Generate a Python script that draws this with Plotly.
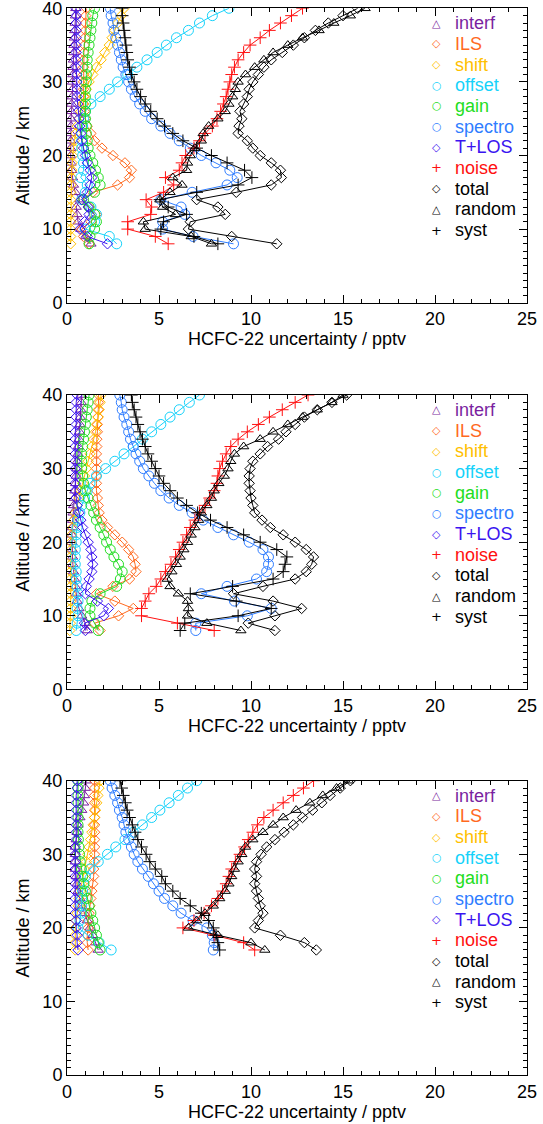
import plotly.graph_objects as go

# ---------------- data ----------------
ALT_A = [8, 9, 10, 11, 12, 13, 14, 15, 16, 17, 18, 19, 20, 21, 22, 23, 24,
         25, 26, 27, 28, 29, 30, 31, 32, 33, 34, 35, 36, 37, 38, 39, 40]
ALT_C = [17, 18, 19, 20, 21, 22, 23, 24, 25, 26, 27, 28, 29, 30, 31, 32, 33,
         34, 35, 36, 37, 38, 39, 40]

# panel 1
INTERF_1 = [1.3, 1.0, 0.75, 0.6, 0.55, 0.5, 0.7, 0.45, 0.35, 0.3, 0.25, 0.22, 0.2, 0.2, 0.2, 0.2, 0.22,
            0.22, 0.25, 0.25, 0.28, 0.3, 0.3, 0.32, 0.33, 0.35, 0.37, 0.38, 0.4, 0.42, 0.44, 0.46, 0.48]
ILS_1 = [1.2, 0.9, 0.8, 1.3, 1.6, 1.2, 0.8, 1.4, 2.75, 3.4, 3.5, 3.15, 2.5, 1.9, 1.5, 1.3, 1.1,
         1.0, 0.95, 0.9, 0.9, 0.9, 0.9, 0.9, 0.9, 0.9, 0.92, 0.95, 0.97, 1.0, 1.0, 1.02, 1.05]
SHIFT_1 = [0.2, 0.2, 0.2, 0.2, 0.2, 0.2, 0.2, 0.2, 0.22, 0.24, 0.26, 0.28, 0.3, 0.35, 0.4, 0.48, 0.56,
           0.65, 0.75, 0.85, 0.95, 1.05, 1.2, 1.4, 1.6, 1.85, 2.05, 2.3, 2.45, 2.6, 2.75, 2.95, 3.1]
OFFSET_1 = [2.7, 2.3, 1.0, 1.5, 1.6, 1.3, 0.8, 1.0, 1.1, 0.75, 0.9, 0.9, 0.85, 0.8, 0.8, 0.8, 0.85,
            0.9, 1.0, 1.3, 1.8, 2.3, 2.75, 3.3, 3.8, 4.35, 4.9, 5.4, 5.95, 6.6, 7.2, 7.9, 8.8]
GAIN_1 = [1.2, 1.25, 1.5, 1.6, 1.5, 1.2, 0.9, 1.5, 1.8, 1.7, 1.55, 1.4, 1.25, 1.15, 1.1, 1.05, 1.05,
          1.0, 1.0, 1.0, 1.0, 1.0, 1.05, 1.05, 1.1, 1.1, 1.15, 1.2, 1.25, 1.3, 1.35, 1.4, 1.5]
SPECTRO_1 = [9.05, 6.85, 5.2, 5.2, 6.4, 6.2, 5.1, 6.8, 8.7, 9.25, 8.85, 8.1, 7.3, 6.7, 6.1, 5.6, 5.1,
             4.6, 4.25, 3.95, 3.7, 3.5, 3.35, 3.2, 3.05, 2.95, 2.85, 2.75, 2.65, 2.55, 2.5, 2.4, 2.35]
TLOS_1 = [2.2, 1.1, 0.7, 0.95, 1.2, 1.15, 0.8, 1.1, 1.25, 1.35, 1.25, 1.1, 1.0, 0.9, 0.8, 0.75, 0.7,
          0.65, 0.6, 0.58, 0.55, 0.55, 0.53, 0.52, 0.5, 0.5, 0.5, 0.5, 0.5, 0.5, 0.5, 0.5, 0.5]
NOISE_1 = [5.5, 4.8, 3.3, 3.3, 4.55, 4.6, 4.3, 5.25, 5.8, 5.35, 6.1, 6.25, 6.45, 6.9, 7.2, 7.5, 7.9,
           8.15, 8.35, 8.5, 8.65, 8.75, 8.85, 8.95, 9.1, 9.3, 9.6, 9.95, 10.5, 11.0, 11.6, 12.2, 12.8]
TOTAL_1 = [11.4, 8.95, 6.6, 6.7, 8.6, 8.2, 7.05, 9.2, 11.1, 11.65, 11.6, 11.1, 10.5, 10.1, 9.8, 9.3, 9.35,
           9.5, 9.4, 9.6, 9.8, 9.9, 10.1, 10.4, 10.7, 11.1, 11.7, 12.3, 12.9, 13.5, 14.2, 15.0, 15.8]
RANDOM_1 = [7.85, 6.75, 4.25, 4.15, 5.9, 5.2, 5.05, 5.6, 6.25, 5.75, 6.5, 6.55, 6.7, 6.95, 7.3, 7.4, 7.7,
            8.2, 8.6, 8.8, 9.0, 9.15, 9.3, 9.7, 10.2, 10.7, 11.2, 12.0, 12.8, 13.7, 14.5, 15.4, 16.2]
SYST_1 = [8.2, 6.9, 5.1, 5.25, 6.5, 5.5, 5.05, 7.05, 9.3, 10.05, 9.65, 8.7, 7.85, 7.05, 6.3, 5.75, 5.3,
          4.9, 4.55, 4.25, 4.0, 3.8, 3.65, 3.5, 3.4, 3.3, 3.25, 3.2, 3.15, 3.1, 3.05, 3.0, 3.0]

# panel 2
INTERF_2 = [1.1, 1.0, 0.8, 0.65, 0.55, 0.5, 0.45, 0.4, 0.35, 0.32, 0.3, 0.28, 0.27, 0.27, 0.28, 0.3, 0.33,
            0.36, 0.4, 0.43, 0.47, 0.5, 0.53, 0.56, 0.6, 0.62, 0.65, 0.68, 0.7, 0.72, 0.75, 0.78, 0.8]
ILS_2 = [1.8, 1.5, 2.8, 3.6, 2.6, 1.6, 2.5, 3.4, 3.75, 3.7, 3.6, 3.35, 3.0, 2.6, 2.2, 1.9, 1.75,
         1.7, 1.65, 1.6, 1.6, 1.6, 1.6, 1.6, 1.6, 1.62, 1.62, 1.65, 1.65, 1.68, 1.7, 1.7, 1.72]
SHIFT_2 = [0.15, 0.18, 0.2, 0.2, 0.2, 0.2, 0.2, 0.2, 0.2, 0.2, 0.2, 0.22, 0.22, 0.25, 0.3, 0.38, 0.45,
           0.55, 0.65, 0.75, 0.85, 0.95, 1.05, 1.15, 1.25, 1.35, 1.45, 1.55, 1.6, 1.7, 1.75, 1.8, 1.85]
OFFSET_2 = [0.5, 0.55, 0.6, 0.55, 0.6, 0.6, 0.55, 0.5, 0.5, 0.45, 0.45, 0.45, 0.5, 0.5, 0.55, 0.6, 0.7,
            0.8, 0.95, 1.1, 1.25, 1.6, 2.1, 2.6, 3.1, 3.6, 4.1, 4.6, 5.1, 5.6, 6.1, 6.65, 7.2]
GAIN_2 = [1.7, 1.5, 1.25, 1.25, 1.35, 1.8, 2.7, 2.9, 3.0, 2.8, 2.55, 2.35, 2.15, 2.0, 1.8, 1.6, 1.45,
          1.3, 1.15, 1.0, 0.9, 0.85, 0.8, 0.8, 0.8, 0.85, 0.9, 0.95, 1.0, 1.05, 1.1, 1.15, 1.2]
SPECTRO_2 = [7.0, 7.0, 9.8, 11.1, 9.1, 7.3, 8.7, 10.3, 10.85, 10.95, 10.95, 10.65, 9.9, 9.05, 8.2, 7.4, 6.8,
             6.1, 5.55, 5.1, 4.75, 4.45, 4.15, 3.95, 3.75, 3.6, 3.45, 3.35, 3.25, 3.1, 3.0, 2.95, 2.87]
TLOS_2 = [1.0, 0.95, 2.0, 2.25, 1.65, 1.0, 1.05, 1.2, 1.35, 1.4, 1.35, 1.3, 1.15, 1.0, 0.85, 0.75, 0.65,
          0.55, 0.5, 0.45, 0.45, 0.45, 0.45, 0.45, 0.45, 0.45, 0.45, 0.45, 0.5, 0.5, 0.5, 0.5, 0.55]
NOISE_2 = [8.0, 6.0, 4.05, 4.05, 4.25, 4.45, 4.85, 5.1, 5.35, 5.65, 5.9, 6.1, 6.3, 6.5, 6.7, 6.95, 7.2,
           7.5, 7.75, 8.0, 8.15, 8.2, 8.3, 8.45, 8.65, 8.9, 9.3, 9.8, 10.4, 11.0, 11.7, 12.4, 13.1]
TOTAL_2 = [11.3, 9.85, 11.3, 12.75, 11.2, 9.05, 10.65, 12.4, 13.0, 13.3, 13.4, 13.0, 12.4, 11.75, 11.05, 10.6, 10.2,
           10.1, 10.0, 9.95, 9.9, 9.9, 9.95, 10.1, 10.5, 10.9, 11.5, 11.9, 12.4, 12.9, 13.6, 14.4, 15.2]
RANDOM_2 = [9.45, 7.6, 6.55, 6.6, 6.55, 6.05, 5.6, 5.45, 5.7, 5.95, 6.15, 6.35, 6.55, 6.75, 6.95, 7.15, 7.3,
            7.6, 7.85, 8.0, 8.25, 8.55, 8.75, 8.9, 9.1, 9.6, 10.5, 11.2, 12.0, 12.8, 13.6, 14.4, 15.0]
SYST_2 = [6.15, 6.4, 9.3, 11.1, 9.2, 6.7, 9.0, 11.2, 11.75, 11.85, 11.95, 11.4, 10.5, 9.6, 8.7, 7.8, 7.1,
          6.5, 6.0, 5.6, 5.25, 5.0, 4.8, 4.6, 4.4, 4.25, 4.1, 3.97, 3.85, 3.75, 3.65, 3.55, 3.5]

# panel 3
INTERF_3 = [1.7, 1.55, 1.4, 1.25, 1.1, 0.95, 0.8, 0.7, 0.6, 0.55, 0.5, 0.45,
            0.45, 0.45, 0.45, 0.5, 0.55, 0.6, 0.7, 0.8, 0.9, 0.95, 1.0, 1.05]
ILS_3 = [1.15, 1.1, 1.1, 1.15, 1.15, 1.2, 1.25, 1.3, 1.35, 1.4, 1.45, 1.45,
         1.5, 1.5, 1.5, 1.5, 1.5, 1.5, 1.5, 1.5, 1.5, 1.5, 1.5, 1.5]
SHIFT_3 = [0.45, 0.45, 0.45, 0.45, 0.5, 0.55, 0.6, 0.65, 0.72, 0.8, 0.88, 0.95,
           1.05, 1.12, 1.2, 1.28, 1.35, 1.42, 1.5, 1.55, 1.62, 1.68, 1.74, 1.8]
OFFSET_3 = [2.4, 1.75, 1.15, 0.6, 0.7, 0.75, 0.8, 0.8, 0.85, 0.9, 1.0, 1.25,
            1.7, 2.2, 2.65, 3.15, 3.6, 4.1, 4.6, 5.05, 5.55, 6.05, 6.55, 7.05]
GAIN_3 = [1.8, 1.7, 1.6, 1.5, 1.4, 1.3, 1.2, 1.1, 1.0, 0.92, 0.85, 0.78,
          0.72, 0.68, 0.65, 0.62, 0.6, 0.6, 0.6, 0.6, 0.6, 0.6, 0.6, 0.6]
SPECTRO_3 = [7.95, 8.0, 7.9, 7.6, 6.85, 6.2, 5.75, 5.3, 5.0, 4.7, 4.42, 4.1,
             3.85, 3.65, 3.5, 3.35, 3.2, 3.1, 3.0, 2.85, 2.75, 2.6, 2.45, 2.35]
TLOS_3 = [0.6, 0.55, 0.55, 0.5, 0.5, 0.45, 0.45, 0.45, 0.45, 0.45, 0.45, 0.45,
          0.45, 0.45, 0.45, 0.5, 0.5, 0.5, 0.5, 0.5, 0.5, 0.5, 0.55, 0.55]
NOISE_3 = [10.2, 9.6, 8.0, 6.3, 6.9, 7.45, 7.85, 8.2, 8.45, 8.65, 8.8, 8.95,
           9.15, 9.4, 9.65, 9.85, 10.1, 10.35, 10.7, 11.2, 11.75, 12.3, 12.85, 13.4]
TOTAL_3 = [13.55, 12.9, 11.6, 10.2, 10.4, 10.65, 10.5, 10.4, 10.3, 10.2, 10.3, 10.2,
           10.3, 10.55, 10.85, 11.3, 11.8, 12.3, 12.8, 13.35, 13.85, 14.3, 14.85, 15.4]
RANDOM_3 = [10.75, 10.0, 8.2, 6.6, 7.05, 7.5, 7.95, 8.3, 8.6, 8.8, 8.95, 9.1,
            9.3, 9.5, 9.7, 10.1, 10.65, 11.2, 11.75, 12.45, 13.2, 13.9, 14.65, 15.3]
SYST_3 = [8.3, 8.2, 8.1, 7.95, 7.7, 7.3, 6.7, 6.15, 5.75, 5.35, 5.15, 4.8,
          4.5, 4.3, 4.05, 3.85, 3.7, 3.55, 3.4, 3.27, 3.17, 3.06, 2.97, 2.88]

SERIES_NAMES = ["interf", "ILS", "shift", "offset", "gain", "spectro", "T+LOS",
                "noise", "total", "random", "syst"]
X_TICKS = [0, 5, 10, 15, 20, 25]
Y_TICKS = [0, 10, 20, 30, 40]
X_TITLE = "HCFC-22 uncertainty / pptv"
Y_TITLE = "Altitude / km"

# ---------------- styles ----------------
STYLE = {
    "interf":  ("#7a1fa0", "triangle-up-open", "△"),
    "ILS":     ("#ff6a1f", "diamond-open", "◇"),
    "shift":   ("#ffbf00", "diamond-open", "◇"),
    "offset":  ("#16d2fa", "circle-open", "○"),
    "gain":    ("#22dd22", "circle-open", "○"),
    "spectro": ("#2f7dff", "circle-open", "○"),
    "T+LOS":   ("#3a14f0", "diamond-open", "◇"),
    "noise":   ("#ff1010", "cross-thin-open", "+"),
    "total":   ("#000000", "diamond-open", "◇"),
    "random":  ("#000000", "triangle-up-open", "△"),
    "syst":    ("#000000", "cross-thin-open", "+"),
}
SIZE = {"triangle-up-open": 9, "diamond-open": 8, "circle-open": 10, "cross-thin-open": 9}

panels = [
    (ALT_A, [INTERF_1, ILS_1, SHIFT_1, OFFSET_1, GAIN_1, SPECTRO_1, TLOS_1, NOISE_1, TOTAL_1, RANDOM_1, SYST_1]),
    (ALT_A, [INTERF_2, ILS_2, SHIFT_2, OFFSET_2, GAIN_2, SPECTRO_2, TLOS_2, NOISE_2, TOTAL_2, RANDOM_2, SYST_2]),
    (ALT_C, [INTERF_3, ILS_3, SHIFT_3, OFFSET_3, GAIN_3, SPECTRO_3, TLOS_3, NOISE_3, TOTAL_3, RANDOM_3, SYST_3]),
]

W, H = 543, 1124
X0, X1 = 67, 527
PANEL_TOPS = [8.3, 395.0, 780.7]
PANEL_H = 294.4
FONT = "Liberation Sans, Arial, Helvetica, sans-serif"

fig = go.Figure()
layout = dict(width=W, height=H, autosize=False,
              margin=dict(l=0, r=0, t=0, b=0, autoexpand=False),
              paper_bgcolor="white", plot_bgcolor="white",
              showlegend=False, font=dict(family=FONT, size=18, color="black"))
annotations = []

for p, (alt, vals) in enumerate(panels):
    sfx = "" if p == 0 else str(p + 1)
    xa, ya = "x" + sfx, "y" + sfx
    for name, v in zip(SERIES_NAMES, vals):
        col, sym, _ = STYLE[name]
        fig.add_trace(go.Scatter(
            x=v, y=alt, mode="lines+markers", name=name,
            xaxis=xa, yaxis=ya,
            line=dict(color=col, width=1),
            marker=dict(symbol=sym, size=SIZE[sym], color=col,
                        line=dict(color=col, width=1)),
        ))
    top = PANEL_TOPS[p]
    bot = top + PANEL_H
    common = dict(showline=True, linecolor="black", linewidth=1, mirror="ticks",
                  ticks="inside", ticklen=8, tickwidth=1, tickcolor="black",
                  showgrid=False, zeroline=False, automargin=False,
                  ticklabeloverflow="allow",
                  tickfont=dict(family=FONT, size=18, color="black"))
    layout["xaxis" + sfx] = dict(
        common, domain=[X0 / W, X1 / W], anchor=ya, range=[0, 25],
        tickvals=X_TICKS,
        minor=dict(dtick=1, tick0=0, ticks="inside", ticklen=4, tickcolor="black", showgrid=False),
        title=dict(text=X_TITLE, standoff=0, font=dict(family=FONT, size=18)))
    layout["yaxis" + sfx] = dict(
        common, domain=[1 - bot / H, 1 - top / H], anchor=xa, range=[0, 40],
        tickvals=Y_TICKS,
        minor=dict(dtick=1, tick0=0, ticks="inside", ticklen=4, tickcolor="black", showgrid=False),
        title=dict(text=Y_TITLE, standoff=8, font=dict(family=FONT, size=18)))
    # legend (symbol + coloured label)
    for i, name in enumerate(SERIES_NAMES):
        col, sym, glyph = STYLE[name]
        yfrac = 1 - (15.0 + i * 20.67) / PANEL_H
        annotations.append(dict(xref=xa + " domain", yref=ya + " domain",
                                x=0.804, y=yfrac, text=glyph, showarrow=False,
                                xanchor="center", yanchor="middle",
                                font=dict(family="DejaVu Sans", size=11 if glyph != "+" else 13, color=col)))
        annotations.append(dict(xref=xa + " domain", yref=ya + " domain",
                                x=0.839, y=yfrac, text=name, showarrow=False,
                                xanchor="left", yanchor="middle",
                                font=dict(family=FONT, size=18, color=col)))

layout["annotations"] = annotations
fig.update_layout(**layout)
fig.write_html("out.html",
               config={"displayModeBar": False},
               post_script="document.body.style.margin='0';document.body.style.padding='0';")
